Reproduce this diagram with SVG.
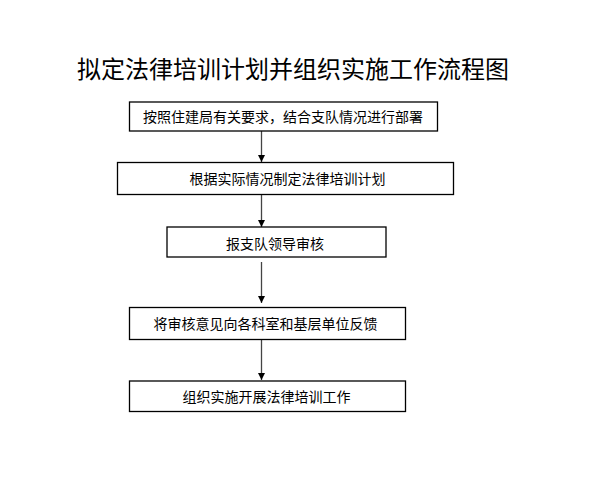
<svg xmlns="http://www.w3.org/2000/svg" width="613" height="481" viewBox="0 0 613 481">
<style>
.box{fill:#fff;stroke:#000;stroke-width:1.3}
.t{font-family:"Noto Sans CJK SC","Liberation Sans",sans-serif;font-size:14px;fill:#000;text-anchor:middle}
.title{font-family:"Noto Sans CJK SC","Liberation Sans",sans-serif;font-size:24px;fill:#000;text-anchor:middle}
.ln{stroke:#444;stroke-width:1.3;fill:none;marker-end:url(#ah)}
</style>
<defs>
<marker id="ah" markerUnits="userSpaceOnUse" markerWidth="8" markerHeight="8" refX="7" refY="4" orient="auto">
<path d="M0,0.5 L7,4 L0,7.5 Z" fill="#000"/>
</marker>
</defs>
<rect width="613" height="481" fill="#fff"/>
<text class="title" x="293" y="78">拟定法律培训计划并组织实施工作流程图</text>
<g id="connectors">
<line class="ln" x1="261.5" y1="131" x2="261.5" y2="162"/>
<line class="ln" x1="261.5" y1="195" x2="261.5" y2="227"/>
<line class="ln" x1="261.5" y1="262" x2="261.5" y2="303"/>
<line class="ln" x1="261.5" y1="340" x2="261.5" y2="380"/>
</g>
<g id="n1"><rect class="box" x="129.5" y="102" width="308" height="29"/><text class="t" x="283" y="121.5">按照住建局有关要求，结合支队情况进行部署</text></g>
<g id="n2"><rect class="box" x="117.5" y="162.5" width="336" height="32"/><text class="t" x="287.5" y="184">根据实际情况制定法律培训计划</text></g>
<g id="n3"><rect class="box" x="167" y="227" width="219" height="30"/><text class="t" x="275" y="248.5">报支队领导审核</text></g>
<g id="n4"><rect class="box" x="129.5" y="307.5" width="276" height="32"/><text class="t" x="265.5" y="329">将审核意见向各科室和基层单位反馈</text></g>
<g id="n5"><rect class="box" x="129.5" y="381" width="276" height="30.5"/><text class="t" x="266.5" y="401.5">组织实施开展法律培训工作</text></g>
</svg>
